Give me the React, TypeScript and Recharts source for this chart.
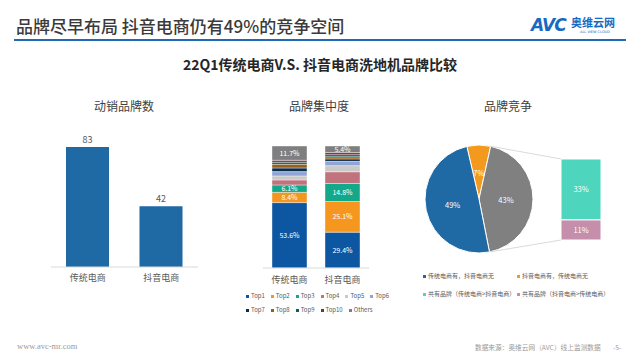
import React from 'react';
import { BarChart, Bar, XAxis, YAxis, LabelList, PieChart, Pie, Cell } from 'recharts';

const FONT = '"Noto Sans CJK SC", "Noto Sans", sans-serif';

// Left chart: number of active brands
const channelNames = ['传统电商', '抖音电商'];
const brandCounts = [83, 42];

// Middle chart: brand concentration
const tierKeys = ['Top1', 'Top2', 'Top3', 'Top4', 'Top5', 'Top6', 'Top7', 'Top8', 'Top9', 'Top10', 'Others'];
const traditionalShares = [53.6, 8.4, 6.1, 4.1, 3.3, 3.5, 3.0, 3.0, 1.7, 1.6, 11.7];
const douyinShares = [29.4, 25.1, 14.8, 9.6, 5.0, 3.5, 2.0, 1.8, 1.7, 1.7, 5.4];
const tierColors = ['#0d56a1', '#f5961e', '#14a88b', '#c0737d', '#c9c9c9', '#8ea5d6', '#0c2c4c', '#9c5e10', '#0d6158', '#76303d', '#7f7f7f'];
const labeledTiers = ['Top1', 'Top2', 'Top3', 'Others'];

// Right chart: brand competition (pie order: orange, gray, blue)
const pieNames = ['抖音电商有，传统电商无', '共有品牌', '传统电商有，抖音电商无'];
const pieValues = [7, 43, 49];
const pieColors = ['#f39a1e', '#808080', '#1f69a4'];
const sharedNames = ['共有品牌（抖音电商>传统电商）', '共有品牌（传统电商>抖音电商）'];
const sharedValues = [11, 33];
const sharedColors = ['#c58eab', '#4dd5bd'];

const legendRight = [
  { name: '传统电商有，抖音电商无', color: '#1f69a4' },
  { name: '抖音电商有，传统电商无', color: '#f39a1e' },
  { name: '共有品牌（传统电商>抖音电商）', color: '#4dd5bd' },
  { name: '共有品牌（抖音电商>传统电商）', color: '#c58eab' },
];

const countData = channelNames.map((n, i) => ({ name: n, value: brandCounts[i] }));
const shareData = channelNames.map((n, i) => {
  const row: any = { name: n };
  const src = i === 0 ? traditionalShares : douyinShares;
  tierKeys.forEach((k, j) => (row[k] = src[j]));
  return row;
});
const pieData = pieNames.map((n, i) => ({ name: n, value: pieValues[i] }));
const sharedRow: any = { name: '共有品牌' };
sharedNames.forEach((n, i) => (sharedRow['s' + i] = sharedValues[i]));
const sharedData = [sharedRow];

// pie geometry
const PIE_CX = 479;
const PIE_CY = 199;
const PIE_R = 54;
const PIE_START = 103;
const BAR2_LEFT = 561;
const BAR2_TOP = 159;
const BAR2_H = 81;

const pieTotal = pieValues.reduce((a, b) => a + b, 0);
const angleAt = (idx: number) => {
  let s = 0;
  for (let i = 0; i < idx; i++) s += pieValues[i];
  return PIE_START - (s / pieTotal) * 360;
};
const pt = (deg: number) => {
  const r = (deg * Math.PI) / 180;
  return { x: PIE_CX + PIE_R * Math.cos(r), y: PIE_CY - PIE_R * Math.sin(r) };
};

const pieLabel = (p: any) => {
  const RAD = Math.PI / 180;
  const r = p.outerRadius * 0.5;
  const x = p.cx + r * Math.cos(-p.midAngle * RAD);
  const y = p.cy + r * Math.sin(-p.midAngle * RAD);
  return (
    <text x={x} y={y} fill="#fff" fontSize={7.5} textAnchor="middle" dominantBaseline="central" fontFamily={FONT}>
      {p.value}%
    </text>
  );
};

const abs = (left: number, top: number, extra: any = {}) => ({ position: 'absolute' as const, left, top, ...extra });

export default function App() {
  const pTop = pt(angleAt(1));
  const pBot = pt(angleAt(2));
  return (
    <div style={{ position: 'absolute', left: 0, top: 0, width: 640, height: 360, background: '#fff', overflow: 'hidden', fontFamily: FONT }}>
      {/* header */}
      <div style={abs(16, 15, { fontSize: 17, color: '#3a3a3a', fontWeight: 500, lineHeight: '22px', whiteSpace: 'nowrap' })}>
        品牌尽早布局 抖音电商仍有49%的竞争空间
      </div>
      <div style={abs(14, 39, { width: 612, height: 2, background: '#1f6ab5' })} />
      <div style={abs(531, 16, { fontSize: 17, fontWeight: 900, fontStyle: 'italic', color: '#1769c2', lineHeight: '18px', letterSpacing: -1, fontFamily: '"DejaVu Sans", sans-serif' })}>AVC</div>
      <div style={abs(571, 16, { fontSize: 11, fontWeight: 700, color: '#1769c2', lineHeight: '12px', whiteSpace: 'nowrap' })}>奥维云网</div>
      <div style={abs(580, 30, { fontSize: 3.5, color: '#1769c2', lineHeight: '4px', whiteSpace: 'nowrap', fontFamily: '"DejaVu Sans", sans-serif' })}>ALL VIEW CLOUD</div>

      <div style={abs(0, 55, { width: 640, textAlign: 'center', fontSize: 14, fontWeight: 700, color: '#262626', lineHeight: '18px' })}>
        22Q1传统电商V.S. 抖音电商洗地机品牌比较
      </div>

      {/* chart titles */}
      <div style={abs(64, 98, { width: 120, textAlign: 'center', fontSize: 12, color: '#404040', lineHeight: '16px' })}>动销品牌数</div>
      <div style={abs(259, 98, { width: 120, textAlign: 'center', fontSize: 12, color: '#404040', lineHeight: '16px' })}>品牌集中度</div>
      <div style={abs(448, 98, { width: 120, textAlign: 'center', fontSize: 12, color: '#404040', lineHeight: '16px' })}>品牌竞争</div>

      {/* left chart */}
      <div style={abs(0, 120)}>
        <BarChart width={220} height={170} data={countData} margin={{ top: 17, right: 22, left: 51, bottom: 3 }}>
          <XAxis dataKey="name" axisLine={{ stroke: '#d9d9d9' }} tickLine={false} tick={{ fontSize: 9, fill: '#595959', fontFamily: FONT }} height={20} tickMargin={2} />
          <YAxis hide domain={[0, 90]} />
          <Bar dataKey="value" fill="#1f69a4" barSize={43} isAnimationActive={false}>
            <LabelList dataKey="value" position="top" offset={4} fill="#595959" fontSize={9} fontFamily={FONT} />
          </Bar>
        </BarChart>
      </div>

      {/* middle chart */}
      <div style={abs(243, 130)}>
        <BarChart width={146} height={160} data={shareData} margin={{ top: 16, right: 20, left: 20, bottom: 2 }}>
          <XAxis dataKey="name" axisLine={{ stroke: '#d9d9d9' }} tickLine={false} tick={{ fontSize: 9, fill: '#595959', fontFamily: FONT }} height={20} tickMargin={3} />
          <YAxis hide domain={[0, 100]} />
          {tierKeys.map((k, i) => (
            <Bar key={k} dataKey={k} stackId="s" fill={tierColors[i]} barSize={35} stroke="#ffffff" strokeWidth={0.4} isAnimationActive={false}>
              {labeledTiers.includes(k) ? (
                <LabelList dataKey={k} position="center" fill="#ffffff" fontSize={7} fontFamily={FONT} formatter={(v: any) => `${v}%`} />
              ) : null}
            </Bar>
          ))}
        </BarChart>
      </div>

      {/* middle legend */}
      <div style={abs(246, 289, { width: 140 })}>
        {[tierKeys.slice(0, 6), tierKeys.slice(6)].map((row, ri) => (
          <div key={ri} style={{ display: 'flex', height: 14, alignItems: 'center' }}>
            {row.map((k) => (
              <div key={k} style={{ display: 'flex', alignItems: 'center', marginRight: 6 }}>
                <span style={{ width: 3, height: 3, background: tierColors[tierKeys.indexOf(k)], marginRight: 2 }} />
                <span style={{ fontSize: 6, color: '#595959', lineHeight: '8px' }}>{k}</span>
              </div>
            ))}
          </div>
        ))}
      </div>

      {/* pie */}
      <div style={abs(PIE_CX - 60, PIE_CY - 60)}>
        <PieChart width={120} height={120} margin={{ top: 0, right: 0, bottom: 0, left: 0 }}>
          <Pie data={pieData} dataKey="value" cx={60} cy={60} outerRadius={PIE_R} startAngle={PIE_START} endAngle={PIE_START - 360} stroke="#ffffff" strokeWidth={1} label={pieLabel} labelLine={false} isAnimationActive={false}>
            {pieData.map((d, i) => (
              <Cell key={d.name} fill={pieColors[i]} />
            ))}
          </Pie>
        </PieChart>
      </div>

      {/* bar of pie */}
      <div style={abs(BAR2_LEFT, BAR2_TOP)}>
        <BarChart width={40} height={BAR2_H} data={sharedData} margin={{ top: 0, right: 0, left: 0, bottom: 0 }} barCategoryGap={0}>
          <XAxis dataKey="name" hide />
          <YAxis hide domain={[0, 44]} />
          {sharedNames.map((n, i) => (
            <Bar key={n} dataKey={'s' + i} stackId="b" fill={sharedColors[i]} stroke="#ffffff" strokeWidth={1} isAnimationActive={false}>
              <LabelList dataKey={'s' + i} position="center" fill="#ffffff" fontSize={7.5} fontFamily={FONT} formatter={(v: any) => `${v}%`} />
            </Bar>
          ))}
        </BarChart>
      </div>

      {/* connectors */}
      <svg style={abs(0, 0, { pointerEvents: 'none' })} width={640} height={360}>
        <line x1={pTop.x} y1={pTop.y} x2={BAR2_LEFT} y2={BAR2_TOP} stroke="#d0d0d0" strokeWidth={0.8} />
        <line x1={pBot.x} y1={pBot.y} x2={BAR2_LEFT} y2={BAR2_TOP + BAR2_H} stroke="#d0d0d0" strokeWidth={0.8} />
      </svg>

      {/* right legend */}
      {legendRight.map((it, i) => (
        <div key={it.name} style={abs(423 + (i % 2) * 94, 272 + Math.floor(i / 2) * 18, { display: 'flex', alignItems: 'center', whiteSpace: 'nowrap' })}>
          <span style={{ width: 3, height: 3, background: it.color, marginRight: 2 }} />
          <span style={{ fontSize: 6, color: '#595959', lineHeight: '8px' }}>{it.name}</span>
        </div>
      ))}

      {/* footer */}
      <div style={abs(17, 341, { fontSize: 8.5, color: '#9a9a9a', fontFamily: '"Liberation Serif", "DejaVu Serif", serif', lineHeight: '10px' })}>www.avc-mr.com</div>
      <div style={abs(475, 343, { fontSize: 6.7, color: '#9a9a9a', lineHeight: '9px', whiteSpace: 'nowrap' })}>
        数据来源：奥维云网（AVC）线上监测数据
      </div>
      <div style={abs(613, 343, { fontSize: 6.7, color: '#9a9a9a', lineHeight: '9px', whiteSpace: 'nowrap' })}>-5-</div>
    </div>
  );
}
